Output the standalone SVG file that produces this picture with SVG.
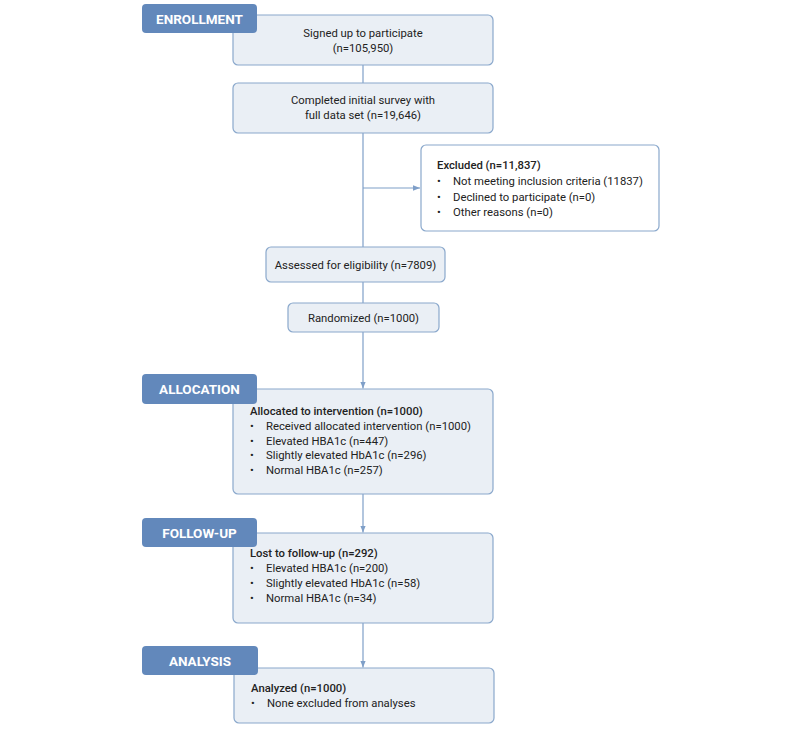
<svg xmlns="http://www.w3.org/2000/svg" width="800" height="732" viewBox="0 0 800 732">
<style>
.box{fill:#eaeff5;stroke:#8aa8cc;stroke-width:1.2}
.lab{fill:#6288bb}
.lt{font-family:Roboto,"Liberation Sans",sans-serif;font-weight:bold;font-size:13.5px;fill:#ffffff;text-anchor:middle}
.t{font-family:Roboto,"Liberation Sans",sans-serif;font-size:11.3px;fill:#222222}
.c{text-anchor:middle}
.b{font-weight:500}
.ln{stroke:#7f9fc8;stroke-width:1.2;fill:none}
</style>
<defs>
<marker id="ah" viewBox="0 0 10 10" refX="10" refY="5" markerWidth="7" markerHeight="7" markerUnits="userSpaceOnUse" orient="auto">
<path d="M0,1 L10,5 L0,9 z" fill="#7f9fc8"/>
</marker>
</defs>
<rect width="800" height="732" fill="#ffffff"/>
<g id="connectors">
<line class="ln" x1="363" y1="65" x2="363" y2="83"/>
<line class="ln" x1="363" y1="133" x2="363" y2="247"/>
<line class="ln" x1="363" y1="188" x2="420" y2="188" marker-end="url(#ah)"/>
<line class="ln" x1="363" y1="282" x2="363" y2="303"/>
<line class="ln" x1="363" y1="332" x2="363" y2="388.5" marker-end="url(#ah)"/>
<line class="ln" x1="363" y1="494" x2="363" y2="532.5" marker-end="url(#ah)"/>
<line class="ln" x1="363" y1="623" x2="363" y2="667.5" marker-end="url(#ah)"/>
</g>
<g id="signed">
<rect class="box" x="233" y="15" width="260" height="50" rx="5"/>
<text class="t c" x="363" y="37">Signed up to participate</text>
<text class="t c" x="363" y="52">(n=105,950)</text>
</g>
<g id="completed">
<rect class="box" x="233" y="83" width="260" height="50" rx="5"/>
<text class="t c" x="363" y="104">Completed initial survey with</text>
<text class="t c" x="363" y="119">full data set (n=19,646)</text>
</g>
<g id="excluded">
<rect class="box" x="421" y="145" width="238" height="86" rx="5" style="fill:#ffffff"/>
<text class="t b" x="437" y="169">Excluded (n=11,837)</text>
<text class="t" x="437" y="185">•</text><text class="t" x="453" y="185">Not meeting inclusion criteria (11837)</text>
<text class="t" x="437" y="200.5">•</text><text class="t" x="453" y="200.5">Declined to participate (n=0)</text>
<text class="t" x="437" y="216">•</text><text class="t" x="453" y="216">Other reasons (n=0)</text>
</g>
<g id="assessed">
<rect class="box" x="266" y="247" width="179" height="35" rx="5"/>
<text class="t c" x="355.5" y="268.5">Assessed for eligibility (n=7809)</text>
</g>
<g id="randomized">
<rect class="box" x="288" y="303" width="151" height="29" rx="5"/>
<text class="t c" x="363.5" y="321.5">Randomized (n=1000)</text>
</g>
<g id="allocated">
<rect class="box" x="233" y="389" width="260" height="105" rx="5"/>
<text class="t b" x="250" y="415">Allocated to intervention (n=1000)</text>
<text class="t" x="250" y="430">•</text><text class="t" x="266" y="430">Received allocated intervention (n=1000)</text>
<text class="t" x="250" y="444.5">•</text><text class="t" x="266" y="444.5">Elevated HBA1c (n=447)</text>
<text class="t" x="250" y="459">•</text><text class="t" x="266" y="459">Slightly elevated HbA1c (n=296)</text>
<text class="t" x="250" y="473.5">•</text><text class="t" x="266" y="473.5">Normal HBA1c (n=257)</text>
</g>
<g id="lost">
<rect class="box" x="233" y="533" width="260" height="90" rx="5"/>
<text class="t b" x="250" y="557">Lost to follow-up (n=292)</text>
<text class="t" x="250" y="572">•</text><text class="t" x="266" y="572">Elevated HBA1c (n=200)</text>
<text class="t" x="250" y="587">•</text><text class="t" x="266" y="587">Slightly elevated HbA1c (n=58)</text>
<text class="t" x="250" y="602">•</text><text class="t" x="266" y="602">Normal HBA1c (n=34)</text>
</g>
<g id="analyzed">
<rect class="box" x="234" y="668" width="260" height="55" rx="5"/>
<text class="t b" x="251" y="692">Analyzed (n=1000)</text>
<text class="t" x="251" y="707">•</text><text class="t" x="267" y="707">None excluded from analyses</text>
</g>
<g id="enrollment-label">
<rect class="lab" x="142" y="4" width="115" height="29" rx="4"/>
<text class="lt" x="199.5" y="23.5">ENROLLMENT</text>
</g>
<g id="allocation-label">
<rect class="lab" x="142" y="374" width="115" height="30" rx="4"/>
<text class="lt" x="199.5" y="394">ALLOCATION</text>
</g>
<g id="followup-label">
<rect class="lab" x="142" y="518" width="115" height="29" rx="4"/>
<text class="lt" x="199.5" y="537.5">FOLLOW-UP</text>
</g>
<g id="analysis-label">
<rect class="lab" x="142" y="646" width="116" height="29" rx="4"/>
<text class="lt" x="200" y="665.5">ANALYSIS</text>
</g>
</svg>
